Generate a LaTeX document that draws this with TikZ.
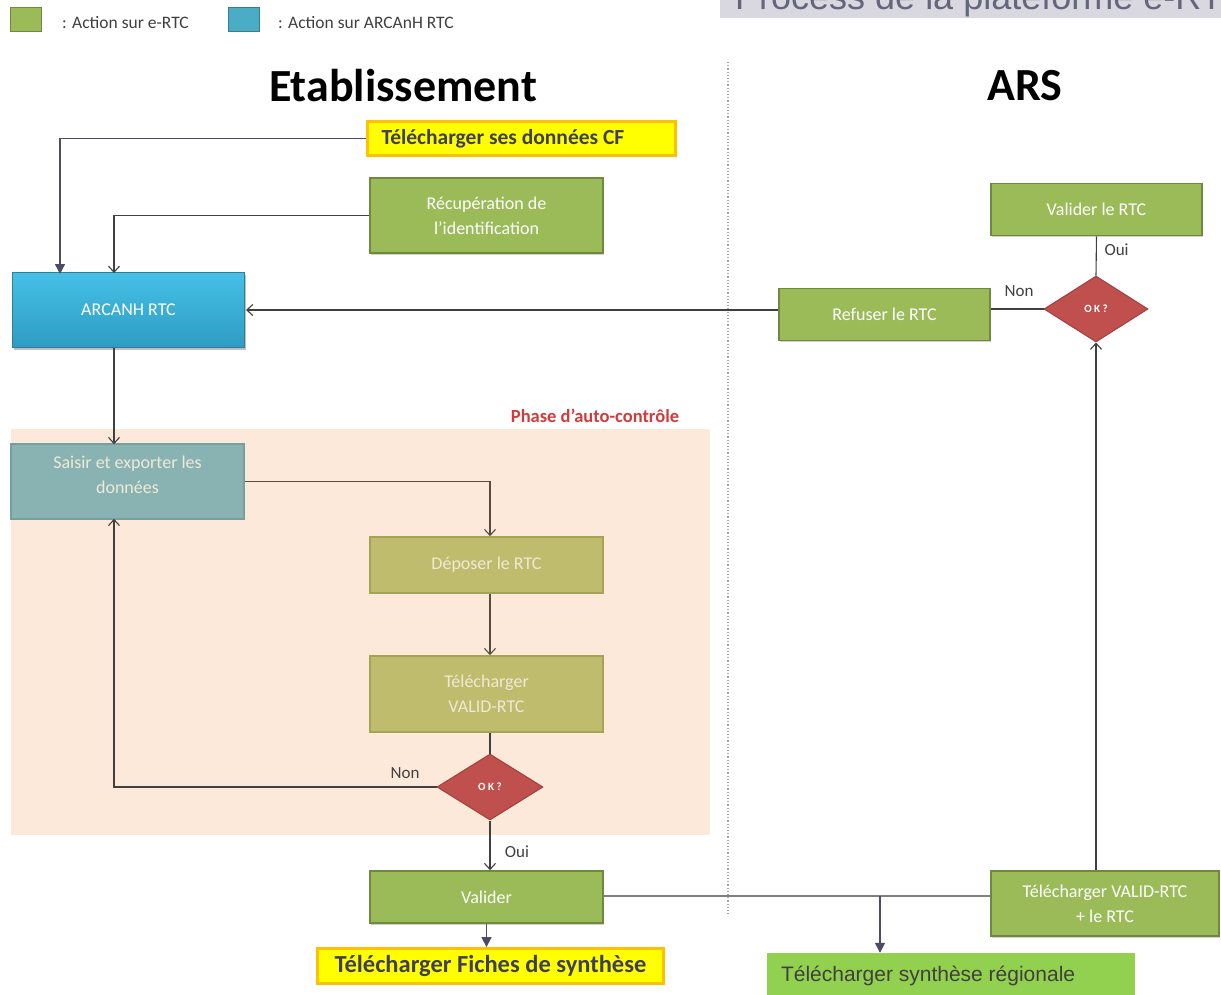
\documentclass[tikz,border=0pt]{standalone}
\usepackage{fontspec}
\setmainfont{Carlito}
\newfontfamily\boxfont{Carlito}
\newfontfamily\arialfont{Liberation Sans}
\usetikzlibrary{shapes.geometric,arrows.meta,shadows}
\definecolor{egreen}{HTML}{9BBB59}
\definecolor{egreenD}{HTML}{71893F}
\definecolor{ablue}{HTML}{4BACC6}
\definecolor{abluD}{HTML}{357D91}
\definecolor{arcTop}{HTML}{45C0E6}
\definecolor{arcBot}{HTML}{2E9CC4}
\definecolor{olive}{HTML}{BFBD6D}
\definecolor{oliveD}{HTML}{A5A358}
\definecolor{teal}{HTML}{89B3B2}
\definecolor{tealD}{HTML}{76A09F}
\definecolor{peach}{HTML}{FDE9D9}
\definecolor{dred}{HTML}{C0504D}
\definecolor{dredD}{HTML}{A33E3B}
\definecolor{yel}{HTML}{FFFF00}
\definecolor{yelD}{HTML}{FFC000}
\definecolor{lgreen}{HTML}{92D050}
\definecolor{conn}{HTML}{404040}
\definecolor{arrD}{HTML}{4F4A66}
\definecolor{titletxt}{HTML}{3F3F5A}
\definecolor{palet}{HTML}{EFE9D6}
\definecolor{phred}{HTML}{D23B3B}
\definecolor{grayhead}{HTML}{D9D8E1}
\tikzset{
  base/.style={rectangle, anchor=center, inner sep=2pt, align=flush center, font=\boxfont\fontsize{18}{25}\selectfont},
  greenbox/.style={base, fill=egreen, draw=egreenD, line width=1.6pt, text=white, drop shadow={shadow xshift=1pt, shadow yshift=-1.5pt, opacity=0.35}},
  olivebox/.style={base, fill=olive, draw=oliveD, line width=1.6pt, text=palet},
  tealbox/.style={base, fill=teal, draw=tealD, line width=1.6pt, text=palet},
  bluebox/.style={base, top color=arcTop, bottom color=arcBot, draw=abluD, line width=1pt, text=white, drop shadow={shadow xshift=1.5pt, shadow yshift=-2pt, opacity=0.5}},
  yelbox/.style={rectangle, anchor=center, fill=yel, draw=yelD, line width=2.8pt, text=titletxt, font=\boxfont\bfseries\fontsize{21.5}{26}\selectfont},
  okdia/.style={diamond, fill=dred, draw=dredD, line width=1pt, inner sep=0pt, text=white, font=\bfseries\fontsize{11}{12}\selectfont},
  lbl/.style={font=\boxfont\fontsize{17}{20}\selectfont, text=conn},
  openarr/.style={draw=conn, line width=1.1pt, -{Straight Barb[length=6pt,width=11pt,line width=1.1pt]}},
  plainln/.style={draw=conn, line width=1.1pt},
  fillarr/.style={draw=arrD, line width=1.4pt, -{Triangle[length=10pt,width=10pt]}, arrD},
}
\begin{document}
\begin{tikzpicture}[x=1pt,y=-1pt]
\useasboundingbox (0,0) rectangle (1221,994);
\fill[white] (0,0) rectangle (1221,994);
% header box (cut off at the top edge, as in the reference)
\begin{scope}
\clip (720,0) rectangle (1221,18);
\fill[grayhead] (720,0) rectangle (1221,18);
\node[anchor=base west, inner sep=0pt, font=\arialfont\fontsize{36}{40}\selectfont, text=titletxt!80] (head) at (735,9) {Process de la plateforme e-RTC};
\end{scope}
% legend
\node[rectangle, fill=egreen, draw=egreenD, line width=1.5pt, minimum width=31pt, minimum height=24pt, inner sep=0pt] (legG) at (26,19.5) {};
\node[anchor=west, inner sep=0pt, font=\boxfont\fontsize{17.5}{18}\selectfont, text=conn] (legGt) at (62,22.5) {: Action sur e-RTC};
\node[rectangle, fill=ablue, draw=abluD, line width=1.5pt, minimum width=31pt, minimum height=24pt, inner sep=0pt] (legB) at (244,19.5) {};
\node[anchor=west, inner sep=0pt, font=\boxfont\fontsize{17.5}{18}\selectfont, text=conn] (legBt) at (278,22.5) {: Action sur ARCAnH RTC};
% titles
\node[font=\bfseries\fontsize{46}{50}\selectfont, text=black] (tEtab) at (403,86) {Etablissement};
\node[font=\bfseries\fontsize{46}{50}\selectfont, text=black] (tARS) at (1025,86) {ARS};
% dotted separator
\coordinate (sepT) at (728,62);
\coordinate (sepB) at (728,915);
\draw[gray!70, line width=1.2pt, dotted] (sepT) -- (sepB);
% phase background
\fill[peach] (11,429) rectangle (710,835);
\node[font=\bfseries\fontsize{18.5}{20}\selectfont, text=phred] (phase) at (595,416) {Phase d’auto-contrôle};
% column coordinates
\coordinate (colA) at (60,0);
\coordinate (colL) at (114,0);
\coordinate (colM) at (490,0);
\coordinate (colS) at (880,0);
\coordinate (lineY) at (0,896);
% nodes
\node[yelbox, minimum width=308pt, minimum height=34pt, text width=280pt, align=flush left, inner xsep=14pt] (Y1) at (521.5,138.5) {Télécharger ses données CF};
\node[greenbox, minimum width=233pt, minimum height=75pt, text width=220pt] (Rec) at (486.5,215.5) {Récupération de\\l’identification};
\node[bluebox, minimum width=232pt, minimum height=75pt] (ARC) at (128.5,310) {ARCANH RTC};
\node[greenbox, minimum width=211pt, minimum height=52pt] (VR) at (1096.5,209.5) {Valider le RTC};
\node[greenbox, minimum width=211pt, minimum height=52pt] (Ref) at (884.5,314.5) {Refuser le RTC};
\node[okdia, minimum width=104pt, minimum height=66pt] (OK1) at (1096,309) {O K ?};
\node[tealbox, minimum width=233pt, minimum height=75pt, text width=220pt] (Sai) at (127.5,481.5) {Saisir et exporter les\\données\\[-11pt]\mbox{}};
\node[olivebox, minimum width=233pt, minimum height=56pt] (Dep) at (486.5,565) {Déposer le RTC};
\node[olivebox, minimum width=233pt, minimum height=76pt, text width=220pt] (TV) at (486.5,694) {Télécharger\\VALID-RTC};
\node[okdia, minimum width=106pt, minimum height=66pt] (OK2) at (490,787) {O K ?};
\node[greenbox, minimum width=233pt, minimum height=52pt] (Val) at (486.5,897) {Valider};
\node[yelbox, minimum width=346pt, minimum height=35pt, font=\boxfont\bfseries\fontsize{24.5}{26}\selectfont] (Fich) at (490.5,966) {Télécharger Fiches de synthèse};
\node[greenbox, minimum width=228pt, minimum height=65pt, text width=220pt] (TVR) at (1105,903.5) {Télécharger VALID-RTC\\+ le RTC};
\node[rectangle, anchor=center, fill=lgreen, minimum width=364pt, minimum height=46pt, text width=340pt, align=flush left, inner xsep=14pt, font=\arialfont\fontsize{21}{24}\selectfont, text=conn] (Syn) at (951,976) {Télécharger synthèse régionale\vphantom{p}};
% connectors
\draw[fillarr] (Y1.west) -| ([yshift=-2pt]ARC.north -| colA);
\draw[openarr] (Rec.west) -| ([yshift=-1pt]ARC.north -| colL);
\draw[openarr] (Ref.west |- ARC.east) -- ([xshift=1pt]ARC.east);
\draw[plainln] (OK1.north) -- (VR.south);
\node[lbl, anchor=west] (oui1) at (1101,250) {Oui};
\draw[plainln] (OK1.west) -- (Ref.east |- OK1.west);
\node[lbl] (non1) at (1019,291) {Non};
\draw[openarr] (OK1.south |- TVR.north) -- (OK1.south);
\draw[openarr] (ARC.south -| colL) -- ([yshift=-1pt]Sai.north -| colL);
\draw[plainln, draw=conn!80!brown, -{Straight Barb[length=6pt,width=11pt,line width=1.1pt]}] (Sai.east) -| (Dep.north -| colM);
\draw[plainln, draw=conn!80!brown, -{Straight Barb[length=6pt,width=11pt,line width=1.1pt]}] (Dep.south -| colM) -- (TV.north -| colM);
\draw[plainln] (TV.south -| colM) -- (OK2.north);
\draw[openarr] (OK2.west) -| ([yshift=1pt]Sai.south -| colL);
\node[lbl] (non2) at (405,773) {Non};
\draw[openarr] (OK2.south) -- (Val.north -| colM);
\node[lbl] (oui2) at (517,852) {Oui};
\draw[fillarr] (Val.south) -- (Val.south |- Fich.north);
\draw[draw=gray, line width=2pt] (Val.east |- lineY) -- (TVR.west |- lineY);
\draw[fillarr] (colS |- lineY) -- (colS |- Syn.north);
\end{tikzpicture}
\end{document}
